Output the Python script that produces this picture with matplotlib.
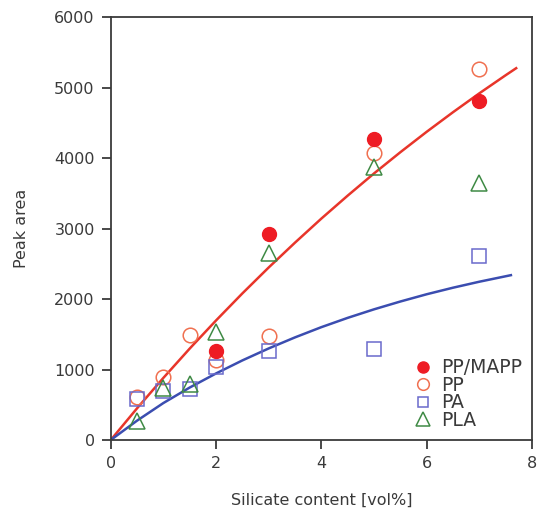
import matplotlib
matplotlib.use("Agg")
import matplotlib.pyplot as plt

plt.rcParams['font.family'] = ['DejaVu Sans']

# measured points
x_pts = [0.5, 1, 1.5, 2, 3, 5, 7]
pp_mapp_x = [2, 3, 5, 7]
pp_mapp = [1270, 2930, 4270, 4810]
pp = [610, 900, 1490, 1140, 1480, 4070, 5270]
pa = [580, 700, 730, 1040, 1270, 1290, 2610]
pla = [270, 740, 800, 1540, 2650, 3880, 3650]

# fitted curves
red_x = [0, 0.5, 1, 1.5, 2, 2.5, 3, 3.5, 4, 4.5, 5, 5.5, 6, 6.5, 7, 7.5, 7.7]
red_y = [0, 450, 882, 1298, 1697, 2081, 2449, 2802, 3143, 3469, 3784, 4085,
         4375, 4653, 4921, 5178, 5278]
blue_x = [0, 0.5, 1, 1.5, 2, 2.5, 3, 3.5, 4, 4.5, 5, 5.5, 6, 6.5, 7, 7.6]
blue_y = [0, 275, 525, 745, 945, 1130, 1300, 1457, 1602, 1734, 1855, 1966,
          2069, 2162, 2247, 2340]

txt = '#3a3a3a'

fig = plt.figure(figsize=(5.43, 5.11), dpi=100)
ax = fig.add_axes([0.2039, 0.1389, 0.9797 - 0.2039, 0.9661 - 0.1389])

ax.plot(red_x, red_y, color='#e8352a', lw=1.8, zorder=2)
ax.plot(blue_x, blue_y, color='#3b4db0', lw=1.8, zorder=2)

ax.plot(pp_mapp_x, pp_mapp, 'o', ms=10, color='#ee1c24', mec='#ee1c24',
        label='PP/MAPP', zorder=4)
ax.plot(x_pts, pp, 'o', ms=10.5, mfc='none', mec='#f07050', mew=1.1,
        label='PP', zorder=3)
ax.plot(x_pts, pa, 's', ms=9.5, mfc='none', mec='#6a6acb', mew=1.1,
        label='PA', zorder=3)
ax.plot(x_pts, pla, '^', ms=12, mfc='none', mec='#3f8a45', mew=1.1,
        label='PLA', zorder=3)

ax.set_xlim(0, 8)
ax.set_ylim(0, 6000)
ax.set_xticks([0, 2, 4, 6, 8])
ax.set_yticks([0, 1000, 2000, 3000, 4000, 5000, 6000])

for s in ax.spines.values():
    s.set_color('#3a3a3a')
    s.set_linewidth(1.3)
ax.tick_params(direction='out', length=6.5, width=1.3, color='#3a3a3a',
               labelsize=11.5, labelcolor=txt, pad=5)

ax.set_xlabel('Silicate content [vol%]', fontsize=11.5, color=txt, labelpad=16)
ax.set_ylabel('Peak area', fontsize=11.5, color=txt, labelpad=18)

leg = ax.legend(loc='lower right', bbox_to_anchor=(1.0, 0.0), frameon=False,
                fontsize=13.5, handlelength=0.8, handletextpad=0.55,
                labelspacing=-0.08, markerscale=0.8, borderaxespad=0.15)
for t in leg.get_texts():
    t.set_color(txt)

fig.savefig('out.png', dpi=100)
